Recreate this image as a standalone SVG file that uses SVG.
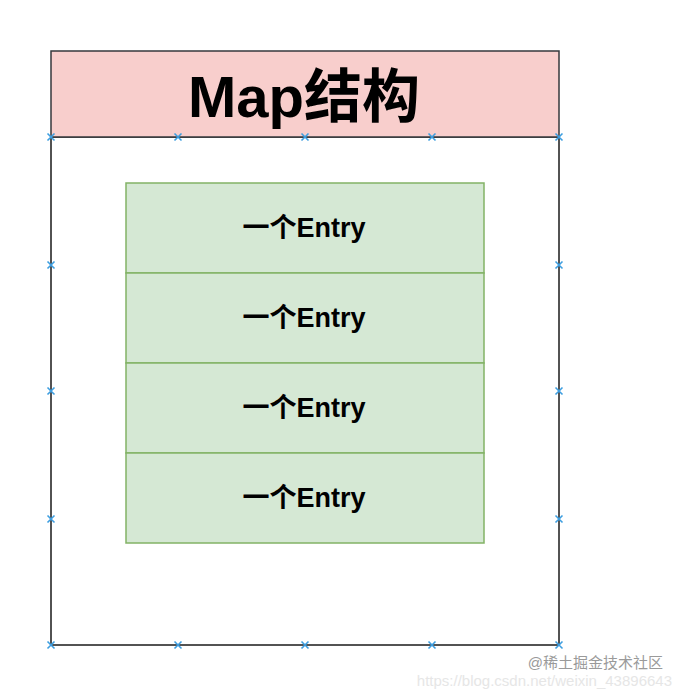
<svg xmlns="http://www.w3.org/2000/svg" width="682" height="691" viewBox="0 0 682 691">
<defs>
<style>
.hdr{fill:#f8cecc;stroke:#36393d;stroke-width:1.5}
.body{fill:#ffffff;stroke:#1a1a1a;stroke-width:1.5}
.entry{fill:#d5e8d4;stroke:#82b366;stroke-width:1.5}
.t{font-family:"Liberation Sans","Noto Sans CJK SC",sans-serif;font-weight:bold;fill:#000;text-anchor:middle}
.wm{font-family:"Liberation Sans","Noto Sans CJK SC",sans-serif}
.mk{stroke:#3d9ee0;stroke-width:1.6;fill:none}
</style>
<g id="x"><path class="mk" d="M-3.5,-3.5L3.5,3.5M-3.5,3.5L3.5,-3.5"/></g>
</defs>
<rect width="682" height="691" fill="#fff"/>
<g id="map-body"><rect class="body" x="51" y="137" width="508" height="508"/></g>
<g id="map-header"><rect class="hdr" x="51" y="51" width="508" height="86"/>
<text class="t" x="304" y="117" font-size="58">Map结构</text></g>
<g id="entry1"><rect class="entry" x="126" y="183" width="358" height="90"/><text class="t" x="304" y="237" font-size="27">一个Entry</text></g>
<g id="entry2"><rect class="entry" x="126" y="273" width="358" height="90"/><text class="t" x="304" y="327" font-size="27">一个Entry</text></g>
<g id="entry3"><rect class="entry" x="126" y="363" width="358" height="90"/><text class="t" x="304" y="417" font-size="27">一个Entry</text></g>
<g id="entry4"><rect class="entry" x="126" y="453" width="358" height="90"/><text class="t" x="304" y="507" font-size="27">一个Entry</text></g>
<g id="connectors">
<use href="#x" x="51" y="137"/><use href="#x" x="178" y="137"/><use href="#x" x="305" y="137"/><use href="#x" x="432" y="137"/><use href="#x" x="559" y="137"/>
<use href="#x" x="51" y="645"/><use href="#x" x="178" y="645"/><use href="#x" x="305" y="645"/><use href="#x" x="432" y="645"/><use href="#x" x="559" y="645"/>
<use href="#x" x="51" y="265"/><use href="#x" x="51" y="391"/><use href="#x" x="51" y="519"/>
<use href="#x" x="559" y="265"/><use href="#x" x="559" y="391"/><use href="#x" x="559" y="519"/>
</g>
<text class="wm" x="672" y="686" font-size="15" text-anchor="end" fill="#e6e6e6">https://blog.csdn.net/weixin_43896643</text>
<text class="wm" x="663" y="668" font-size="15" text-anchor="end" fill="#9a9a9a">@稀土掘金技术社区</text>
</svg>
